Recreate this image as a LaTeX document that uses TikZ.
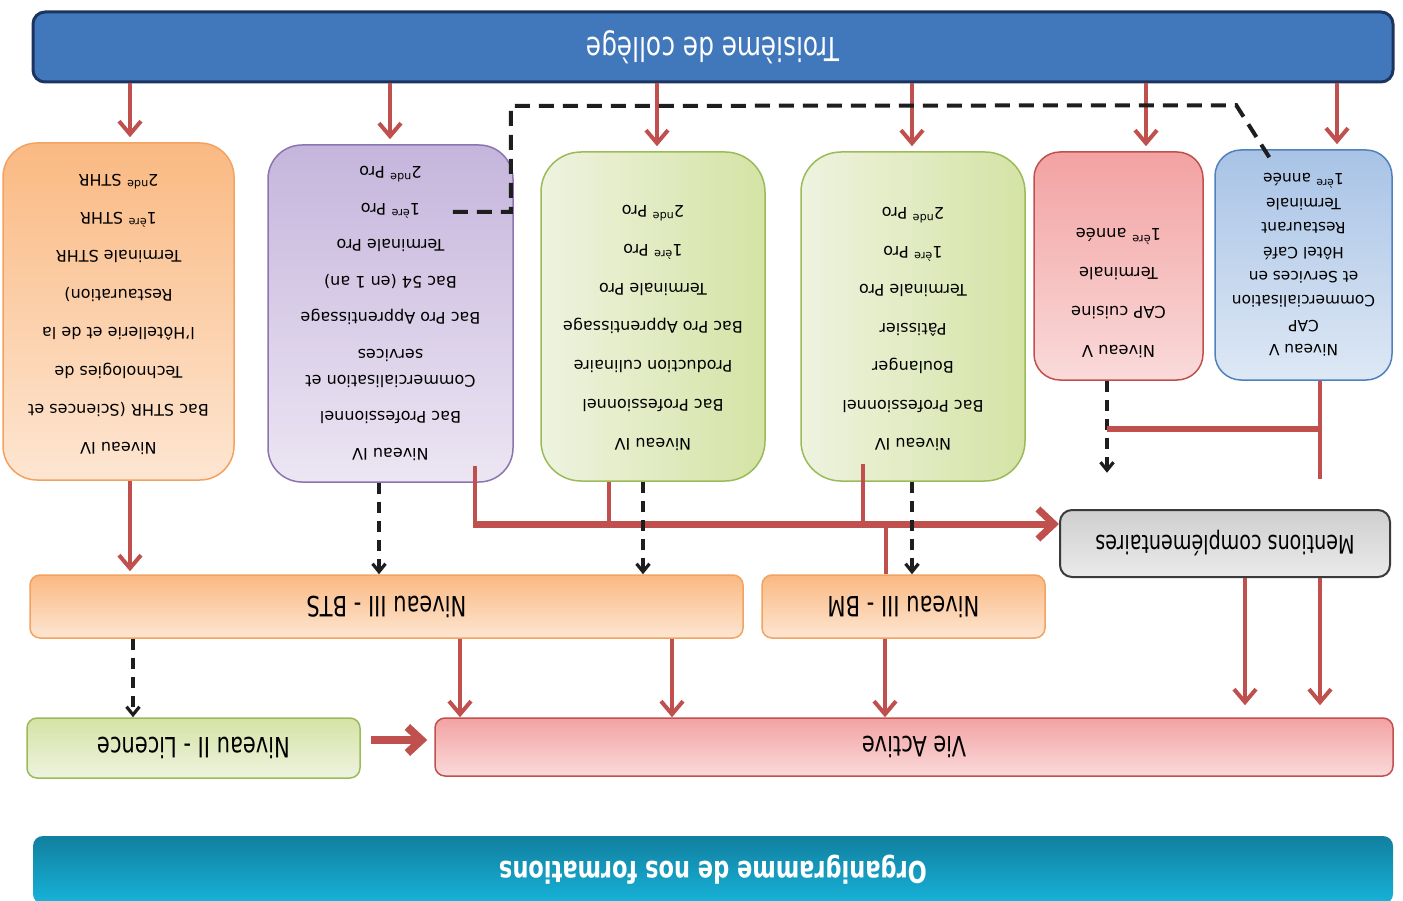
\documentclass[tikz,border=0pt]{standalone}
\usepackage{fontspec}
\setmainfont{DejaVu Sans}
\newfontfamily\etroit[FakeStretch=0.75]{DejaVu Sans}
\usetikzlibrary{positioning}
\usetikzlibrary{arrows.meta}
\usetikzlibrary{calc}

\definecolor{rougefl}{HTML}{C0504D}
\definecolor{noirpt}{HTML}{1E1E1E}
\definecolor{bleubar}{HTML}{4178BC}
\definecolor{bleunuit}{HTML}{1C3560}
\definecolor{tealclair}{HTML}{17B3D9}
\definecolor{tealfonce}{HTML}{117F9F}
\definecolor{orfonce}{HTML}{FAB982}
\definecolor{orclair}{HTML}{FDE6D2}
\definecolor{orbord}{HTML}{F2A261}
\definecolor{viofonce}{HTML}{C5B5DC}
\definecolor{vioclair}{HTML}{ECE6F3}
\definecolor{viobord}{HTML}{8C74B0}
\definecolor{vertfonce}{HTML}{D5E3A5}
\definecolor{vertclair}{HTML}{EEF3DF}
\definecolor{vertbord}{HTML}{9BBB59}
\definecolor{rosefonce}{HTML}{F3A2A2}
\definecolor{roseclair}{HTML}{FADADA}
\definecolor{rosebord}{HTML}{C0504D}
\definecolor{bleufonce}{HTML}{A8C3E6}
\definecolor{bleuclair}{HTML}{DEE8F5}
\definecolor{bleubord}{HTML}{4F81BD}
\definecolor{grisfonce}{HTML}{CFCFCF}
\definecolor{grisclair}{HTML}{EAEAEA}
\definecolor{grisbord}{HTML}{3A3A3A}

\begin{document}
\begin{tikzpicture}[x=-1pt, y=1pt, rotate=180, transform shape,
colonne/.style={rectangle, rounded corners=34pt, line width=1.5pt, inner sep=0pt, align=center, font=\fontsize{16}{38.4}\selectfont},
bande/.style={rectangle, rounded corners=10pt, line width=1.5pt, inner sep=0pt, font=\etroit\fontsize{28}{34}\selectfont},
orbox/.style={draw=orbord, top color=orfonce, bottom color=orclair},
viobox/.style={draw=viobord, top color=viofonce, bottom color=vioclair},
vertbox/.style={draw=vertbord, left color=vertclair, right color=vertfonce},
rosebox/.style={draw=rosebord, top color=rosefonce, bottom color=roseclair},
bleubox/.style={draw=bleubord, top color=bleufonce, bottom color=bleuclair},
redline/.style={draw=rougefl, line width=4pt},
redarrow/.style={redline, -{Straight Barb[length=13pt, width=22pt]}},
dasharrow/.style={draw=noirpt, line width=3.2pt, dash pattern=on 11pt off 8pt, -{Straight Barb[length=8pt, width=13pt]}},
]
\useasboundingbox (0,0) rectangle (1403,901);

% bandeaux
\node[bande, fill=bleubar, draw=bleunuit, line width=3pt, rounded corners=12pt, minimum width=1360pt, minimum height=70pt, text=white, font=\etroit\fontsize{33}{40}\selectfont] (troisieme) at (713,47) {Troisième de collège};
\node[bande, top color=tealfonce, bottom color=tealclair, minimum width=1360pt, minimum height=68pt, text=white, font=\etroit\bfseries\fontsize{30}{36}\selectfont] (organi) at (713,870) {Organigramme de nos formations};

% formations
\node[colonne, orbox, minimum width=231pt, minimum height=337pt, text depth=6pt] (sthr) at (118.5,311.5)
  {Niveau IV\\Bac STHR (Sciences et\\Technologies de\\l'Hôtellerie et de la\\Restauration)\\Terminale STHR\\1\textsuperscript{ère} STHR\\2\textsuperscript{nde} STHR};
\node[colonne, viobox, minimum width=245pt, minimum height=337pt, font=\fontsize{16}{36.5}\selectfont] (commserv) at (390.5,313.5)
  {Niveau IV\\Bac Professionnel\\Commercialisation et\\[-10.5pt]services\\Bac Pro Apprentissage\\Bac 54 (en 1 an)\\Terminale Pro\\1\textsuperscript{ère} Pro\\2\textsuperscript{nde} Pro};
\node[colonne, vertbox, rounded corners=40pt, minimum width=224pt, minimum height=329pt, text depth=23pt, font=\fontsize{16}{38.7}\selectfont] (prodcul) at (653,316.5)
  {Niveau IV\\Bac Professionnel\\Production culinaire\\Bac Pro Apprentissage\\Terminale Pro\\1\textsuperscript{ère} Pro\\2\textsuperscript{nde} Pro};
\node[colonne, vertbox, rounded corners=40pt, minimum width=224pt, minimum height=329pt, text depth=26pt, font=\fontsize{16}{38.5}\selectfont] (boulpat) at (913,316.5)
  {Niveau IV\\Bac Professionnel\\Boulanger\\Pâtissier\\Terminale Pro\\1\textsuperscript{ère} Pro\\2\textsuperscript{nde} Pro};
\node[colonne, rosebox, rounded corners=26pt, minimum width=169pt, minimum height=228pt, text depth=55pt, font=\fontsize{16.3}{39}\selectfont] (capcuis) at (1118.5,266)
  {Niveau V\\CAP cuisine\\Terminale\\1\textsuperscript{ère} année};
\node[colonne, bleubox, rounded corners=26pt, minimum width=177pt, minimum height=230pt, font=\fontsize{15.4}{24.4}\selectfont] (capcsr) at (1303.5,265)
  {Niveau V\\CAP\\Commercialisation\\et Services en\\Hôtel Café\\Restaurant\\Terminale\\1\textsuperscript{ère} année};

% niveaux
\node[bande, draw=grisbord, line width=2pt, rounded corners=12pt, top color=grisfonce, bottom color=grisclair, minimum width=330pt, minimum height=67pt, font=\etroit\fontsize{25.5}{30}\selectfont] (mentions) at (1225,543.5) {Mentions complémentaires};
\node[bande, orbox, minimum width=713pt, minimum height=63pt] (bts) at (386.5,606.5) {Niveau III - BTS};
\node[bande, orbox, minimum width=283pt, minimum height=63pt] (bm) at (903.5,606.5) {Niveau III - BM};
\node[bande, draw=vertbord, top color=vertfonce, bottom color=vertclair, minimum width=333pt, minimum height=60pt] (licence) at (193.5,748) {Niveau II - Licence};
\node[bande, rosebox, minimum width=958pt, minimum height=58pt] (vie) at (914,747) {Vie Active};

% depuis la troisieme
\foreach \xa/\cible in {130/sthr, 390/commserv, 657/prodcul, 912/boulpat, 1146/capcuis, 1337/capcsr}
  \draw[redarrow, shorten >=5pt] (troisieme.north -| \xa,0) -- (\cible.south -| \xa,0);

% passerelle CAP -> 1ere Pro
\draw[draw=noirpt, line width=4pt, dash pattern=on 15pt off 9pt] (capcsr.south east) ++(55,8) -- ++(-33,-52)
  -- ($(commserv.west)+(-3,-207.5)$) -- ++(0,106) -- ++(-60,0);

% vers les mentions complementaires
\coordinate (bus) at ($(mentions.east)+(0,-19.5)$);
\draw[redline] ($(commserv.north -| 475,0)+(0,-17)$) -- (bus -| 475,0);
\draw[redline] (prodcul.north -| 609,0) -- (bus -| 609,0);
\draw[redline] ($(boulpat.north -| 863,0)+(0,-18)$) -- (bus -| 863,0);
\draw[redline, line width=7pt, -{Straight Barb[length=16pt, width=30pt]}] ($(bus -| 475,0)+(-2,0)$) -- (bus);
\draw[redline] (bus -| 886,0) -- (bm.south -| 886,0);

% CAP
\draw[dasharrow] (capcuis.north -| 1107,0) -- ++(0,92);
\draw[redline] (capcsr.north -| 1320,0) -- ++(0,98);
\draw[redline, line width=6pt] ($(capcsr.north -| 1320,0)+(0,48)$) -- ($(capcuis.north -| 1107,0)+(0,48)$);

% vers les niveaux III
\draw[redarrow, shorten >=3pt] (sthr.north -| 130,0) -- (bts.south -| 130,0);
\draw[dasharrow] (commserv.north -| 379,0) -- (bts.south -| 379,0);
\draw[dasharrow] (prodcul.north -| 643,0) -- (bts.south -| 643,0);
\draw[dasharrow] (boulpat.north -| 912,0) -- (bm.south -| 912,0);

% vers la vie active
\draw[dasharrow] (bts.north -| 133,0) -- (licence.south -| 133,0);
\foreach \xa/\src in {460/bts, 672/bts, 885/bm}
  \draw[redarrow] (\src.north -| \xa,0) -- (vie.south -| \xa,0);
\foreach \xa in {1245, 1320}
  \draw[redarrow, shorten >=12pt] (mentions.north -| \xa,0) -- (vie.south -| \xa,0);
\draw[redline, line width=8pt, -{Straight Barb[length=14pt, width=26pt]}] ($(licence.west)+(10,-8)$) -- ($(vie.east)+(-7,-7)$);
\end{tikzpicture}
\end{document}
